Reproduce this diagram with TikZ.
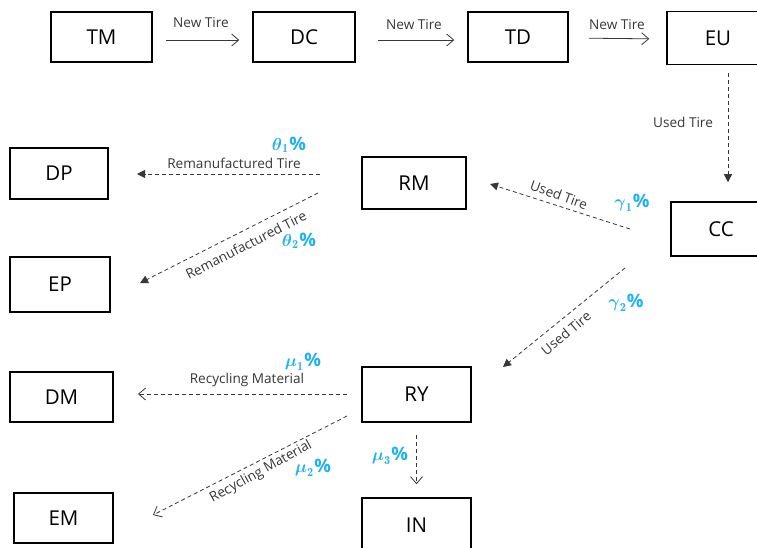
\documentclass[tikz,border=0pt]{standalone}
\usepackage{fontspec}
\usepackage{amsmath}
\setsansfont{Open Sans}
\usetikzlibrary{arrows.meta}
\definecolor{pctblue}{RGB}{30,178,240}
\definecolor{lblgray}{RGB}{55,55,55}
\newcommand\flowpct[2]{$\boldsymbol{#1}_{\mathbf{#2}}$\kern0.5pt{\sffamily\bfseries\fontsize{18.5}{19}\selectfont\%}}
\begin{document}
\begin{tikzpicture}[x=1pt,y=-1pt,
  box/.style={draw, line width=1.5pt, inner sep=0pt, minimum height=50pt,
    font=\sffamily\fontsize{20.5}{24}\selectfont},
  flow/.style={line width=0.8pt, draw=lblgray},
  dashflow/.style={flow, dash pattern=on 4pt off 3pt},
  openhead/.style={-{Straight Barb[length=7pt,width=12pt]}},
  fillhead/.style={-{Triangle[length=8pt,width=8pt]}},
  lbl/.style={font=\sffamily\fontsize{13.6}{15}\selectfont, text=lblgray, inner sep=1pt},
  pct/.style={font=\fontsize{17.5}{19}\selectfont, text=pctblue, inner sep=0pt}]
\path[use as bounding box] (0,0) rectangle (757,548);

% boxes
\node[box, minimum width=101pt] (TM) at (101.5,37) {TM};
\node[box, minimum width=102pt] (DC) at (304,37) {DC};
\node[box, minimum width=100pt] (TD) at (518,37) {TD};
\node[box, minimum width=102pt, minimum height=53pt] (EU) at (718,38) {EU};
\node[box, minimum width=98pt, minimum height=51pt] (DP) at (59,173.5) {DP};
\node[box, minimum width=104pt, minimum height=52pt] (RM) at (414,183) {RM};
\node[box, minimum width=100pt, minimum height=55pt] (EP) at (60,284.5) {EP};
\node[box, minimum width=100pt, minimum height=54pt] (CC) at (721,229) {CC};
\node[box, minimum width=103pt] (DM) at (61.5,397) {DM};
\node[box, minimum width=109pt, minimum height=55pt] (RY) at (416.5,394.5) {RY};
\node[box, minimum width=99pt] (EM) at (63.5,518) {EM};
\node[box, minimum width=109pt, minimum height=54pt] (IN) at (416.5,525) {IN};

% free ends of the slanted and detached connectors
\coordinate (ccUp) at (630,229);
\coordinate (rmIn) at (490,184);
\coordinate (ccDown) at (625,268);
\coordinate (ryIn) at (503,367);
\coordinate (rmLeft) at (320,174);
\coordinate (dpIn) at (137,174);
\coordinate (rmSlant) at (318,193);
\coordinate (epIn) at (140,283);
\coordinate (ryLeft) at (347,394);
\coordinate (dmIn) at (138,394);
\coordinate (rySlant) at (347,416);
\coordinate (emIn) at (153,515);

% forward chain
\draw[flow, openhead, shorten <=13pt, shorten >=13pt]
  ([yshift=-3pt]TM.east) -- ([yshift=-3pt]DC.west);
\draw[flow, openhead, shorten <=22pt, shorten >=13pt]
  ([yshift=-3pt]DC.east) -- ([yshift=-3pt]TD.west);
\draw[flow, openhead, shorten <=20pt, shorten >=17pt]
  ([yshift=-1pt]TD.east) -- ([yshift=-1pt]EU.west);
\node[lbl] (l1) at (201,23) {New Tire};
\node[lbl] (l2) at (414,25) {New Tire};
\node[lbl] (l3) at (617,25) {New Tire};

% collection
\draw[dashflow, fillhead, shorten <=8pt, shorten >=19pt]
  ([xshift=10pt]EU.south) -- ([xshift=7pt]CC.north);
\node[lbl] (l4) at (683,122) {Used Tire};

\draw[dashflow, fillhead] (ccUp) -- (rmIn);
\node[lbl, rotate=-20] (l5) at (559,195) {Used Tire};
\node[pct] (g1) at (632,203) {\flowpct{\gamma}{1}};

\draw[dashflow, fillhead] (ccDown) -- (ryIn);
\node[lbl, rotate=40] (l6) at (566,333) {Used Tire};
\node[pct] (g2) at (626,303) {\flowpct{\gamma}{2}};

% remanufacturing outputs
\draw[dashflow, fillhead] (rmLeft) -- (dpIn);
\node[lbl] (l7) at (234,163) {Remanufactured Tire};
\node[pct] (t1) at (289,145) {\flowpct{\theta}{1}};

\draw[dashflow, fillhead] (rmSlant) -- (epIn);
\node[lbl, rotate=27] (l8) at (246,245) {Remanufactured Tire};
\node[pct] (t2) at (299,241) {\flowpct{\theta}{2}};

% recycling outputs
\draw[dashflow, openhead] (ryLeft) -- (dmIn);
\node[lbl] (l9) at (247,380) {Recycling Material};
\node[pct] (m1) at (303,362) {\flowpct{\mu}{1}};

\draw[dashflow, openhead] (rySlant) -- (emIn);
\node[lbl, rotate=29] (l10) at (261,472) {Recycling Material};
\node[pct] (m2) at (313,468) {\flowpct{\mu}{2}};

\draw[dashflow, openhead, shorten <=12pt, shorten >=13pt] (RY.south) -- (IN.north);
\node[pct] (m3) at (390,456) {\flowpct{\mu}{3}};
\end{tikzpicture}
\end{document}
